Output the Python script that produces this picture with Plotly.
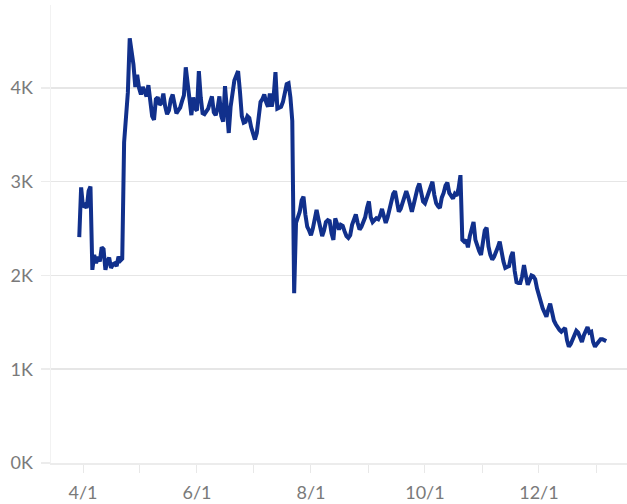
import pandas as pd
import plotly.graph_objects as go

start_date = "2021-03-30"
values = [
    2410, 2940, 2730, 2750, 2720, 2900, 2950, 2060, 2220, 2130,
    2200, 2150, 2300, 2280, 2060, 2150, 2190, 2080, 2120, 2130,
    2100, 2200, 2160, 2180, 3420, 3650, 3950, 4530, 4400, 4250,
    4010, 4140, 4000, 3930, 4010, 3950, 3910, 4030, 3900, 3700,
    3660, 3880, 3900, 3820, 3840, 3940, 3800, 3720, 3760, 3880,
    3930, 3800, 3730, 3760, 3790, 3860, 3920, 4220, 4050, 3800,
    3710, 3900, 3780, 3760, 4180, 3900, 3730, 3720, 3750, 3780,
    3850, 3910, 3740, 3710, 3780, 3910, 3700, 3640, 4020, 3700,
    3520, 3800, 3920, 4080, 4130, 4180, 3960, 3700, 3630, 3640,
    3700, 3680, 3580, 3500, 3450, 3520, 3650, 3850, 3880, 3930,
    3850, 3800, 3940, 3800, 3900, 4170, 3780, 3790, 3800, 3850,
    3940, 4040, 4050, 3900, 3650, 1810, 2560, 2620, 2680, 2800,
    2840, 2650, 2520, 2480, 2430, 2500, 2600, 2700, 2600, 2520,
    2420, 2480, 2570, 2590, 2580, 2450, 2380, 2610, 2530, 2490,
    2540, 2530, 2470, 2420, 2400, 2430, 2540, 2600, 2650, 2560,
    2490, 2520, 2560, 2620, 2720, 2790, 2620, 2570, 2590, 2610,
    2600, 2640, 2710, 2650, 2560, 2620, 2720, 2790, 2870, 2900,
    2760, 2680, 2710, 2770, 2830, 2900, 2840, 2740, 2680, 2760,
    2850, 2930, 2980, 2860, 2790, 2770, 2830, 2900, 2960, 3000,
    2860, 2770, 2740, 2720, 2830, 2880, 2960, 2990, 2880, 2850,
    2820, 2870, 2850, 2930, 3070, 2380, 2360, 2380, 2300, 2420,
    2510, 2570, 2380, 2300, 2260, 2220, 2380, 2480, 2510, 2310,
    2220, 2170, 2200, 2240, 2300, 2360, 2240, 2150, 2080, 2090,
    2100, 2200, 2250, 2050, 1930, 1920, 1920, 1990, 2110, 2000,
    1900, 1950, 2000, 1990, 1960, 1860, 1770, 1720, 1650, 1600,
    1560, 1640, 1700, 1610, 1520, 1480, 1440, 1420, 1400, 1420,
    1440, 1310, 1240, 1270, 1320, 1380, 1410, 1390, 1330, 1290,
    1360, 1420, 1450, 1390, 1400, 1290, 1240, 1270, 1300, 1320,
    1320, 1310, 1300,
]
dates = pd.date_range(start_date, periods=len(values), freq="D")

x_tickvals = ["2021-04-01", "2021-05-01", "2021-06-01", "2021-07-01", "2021-08-01",
              "2021-09-01", "2021-10-01", "2021-11-01", "2021-12-01", "2022-01-01"]
x_ticktext = ["4/1", "", "6/1", "", "8/1", "", "10/1", "", "12/1", ""]
y_tickvals = [0, 1000, 2000, 3000, 4000]
y_ticktext = ["0K", "1K", "2K", "3K", "4K"]

fig = go.Figure(go.Scatter(
    x=dates, y=values, mode="lines",
    line=dict(color="#11308c", width=4),
    hoverinfo="skip",
))

fig.update_layout(
    width=627, height=504,
    margin=dict(l=51, r=0, t=5, b=41),
    paper_bgcolor="white", plot_bgcolor="white",
    showlegend=False,
    font=dict(family="Lato, sans-serif", size=18, color="#7a7a7a"),
)
fig.update_xaxes(
    range=["2021-03-14T21:00", "2022-01-17T03:00"],
    tickvals=x_tickvals, ticktext=x_ticktext,
    ticks="outside", ticklen=8, tickcolor="#e8e8e8", tickwidth=1,
    showgrid=False, zeroline=False,
    showline=True, linecolor="#ececec", linewidth=1.5,
    ticklabelstandoff=5,
)
fig.update_yaxes(
    range=[0, 4885],
    tickvals=y_tickvals, ticktext=y_ticktext,
    ticks="outside", ticklen=9, tickcolor="#ececec", tickwidth=1.5,
    showgrid=True, gridcolor="#e6e6e6", gridwidth=1.5,
    zeroline=False,
    showline=True, linecolor="#f2f2f2", linewidth=1.5,
    ticklabelstandoff=4,
)

fig.write_html(
    "out.html",
    config={"displayModeBar": False, "staticPlot": True},
    post_script="document.body.style.margin='0';document.body.style.overflow='hidden';",
)
